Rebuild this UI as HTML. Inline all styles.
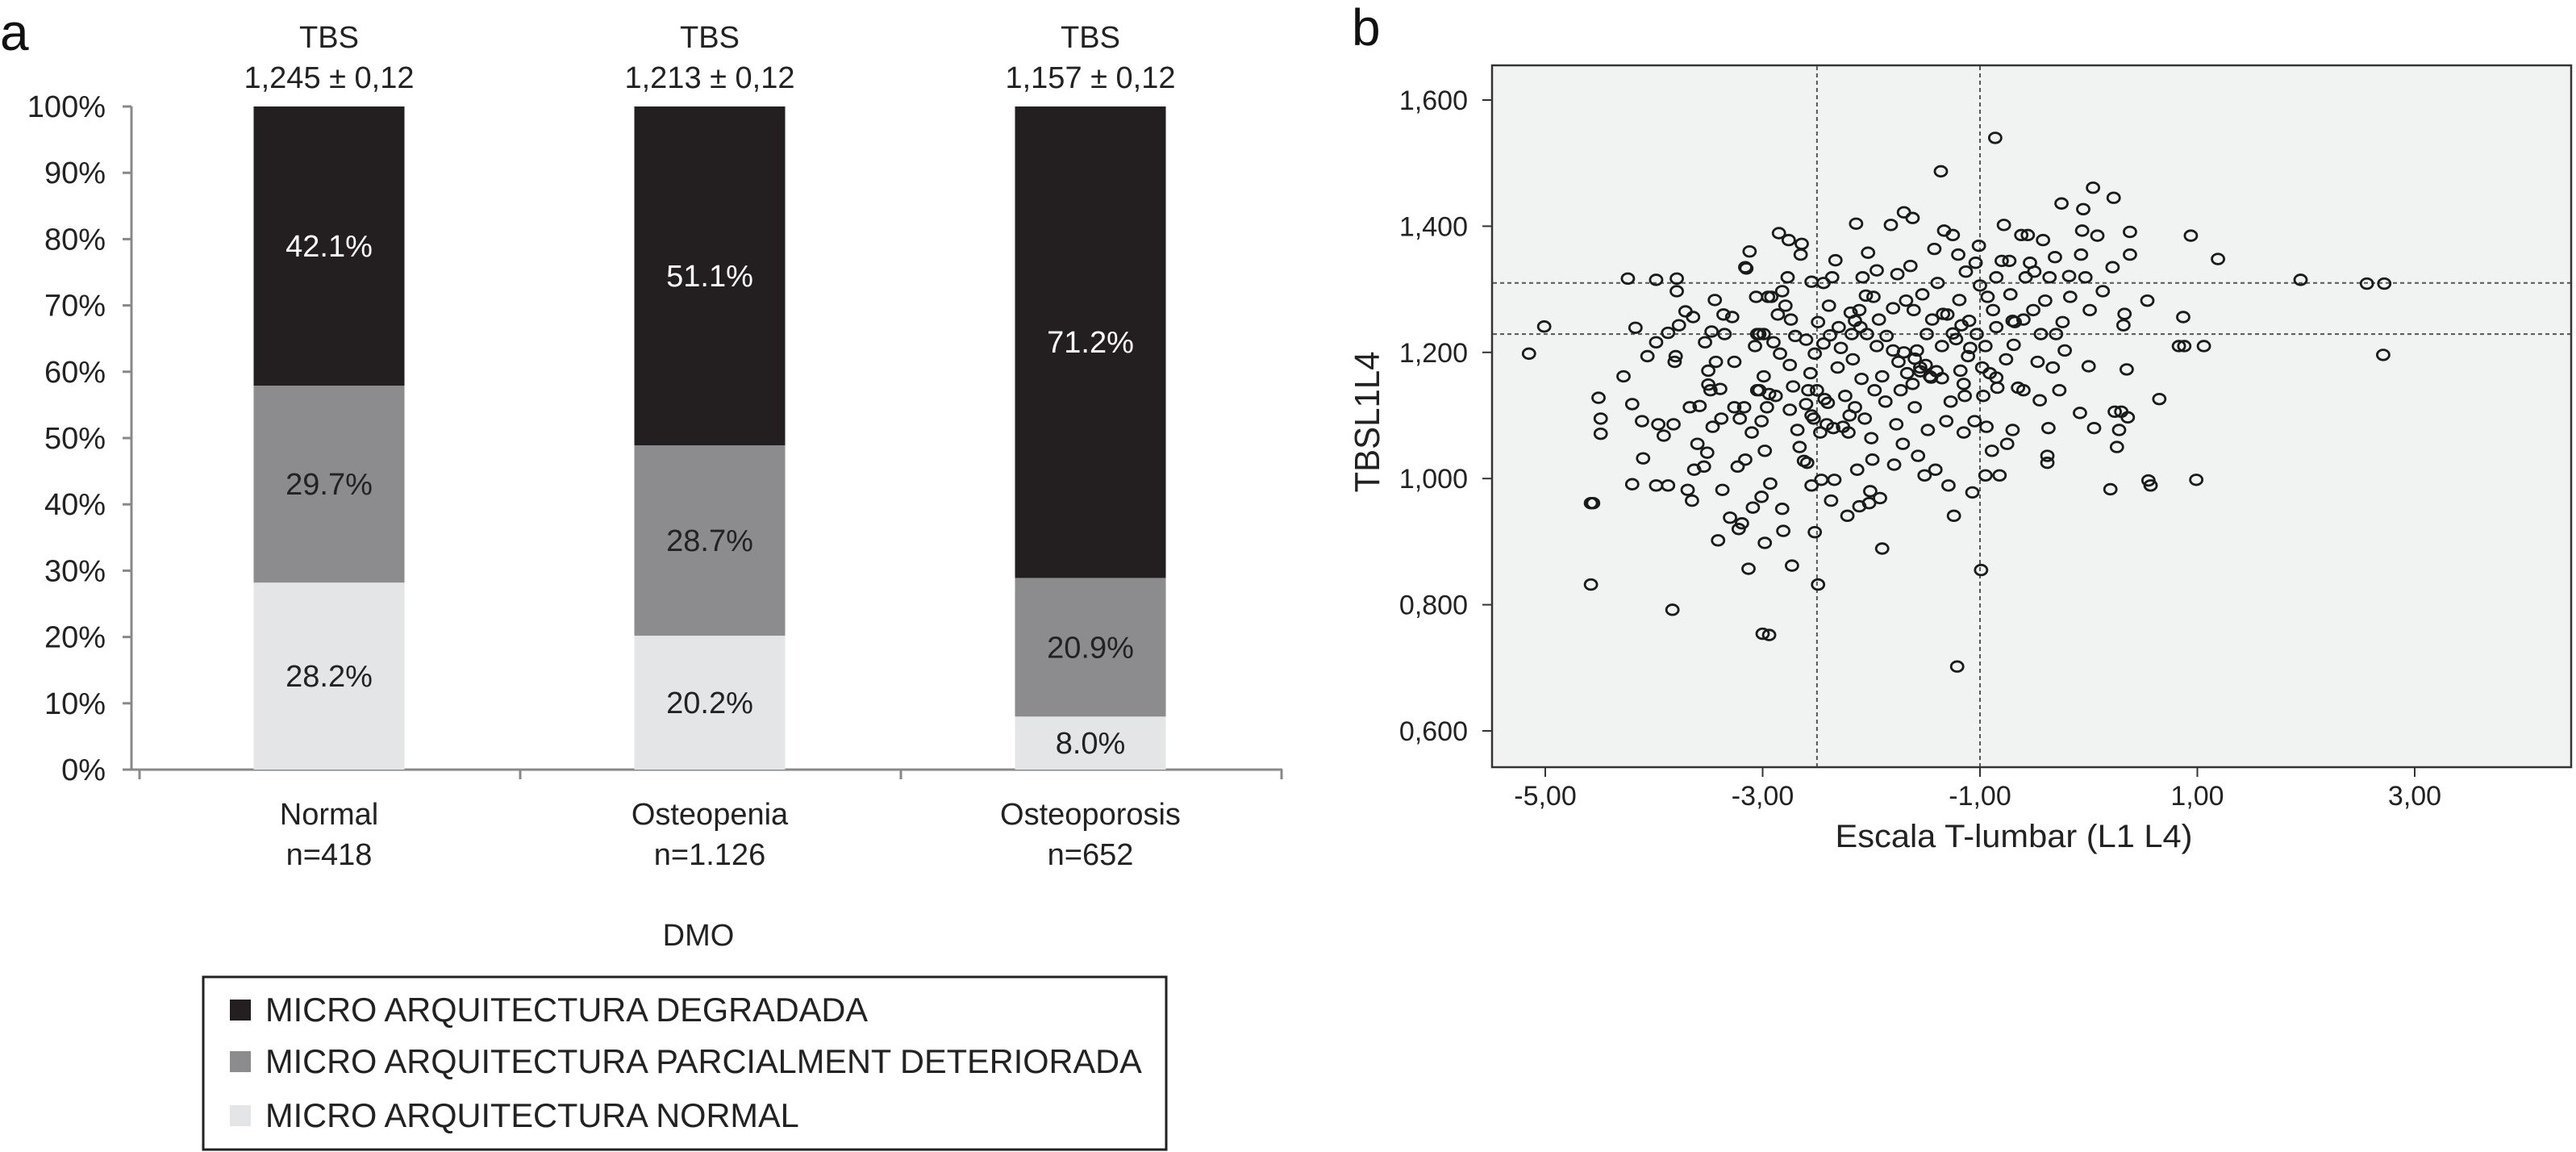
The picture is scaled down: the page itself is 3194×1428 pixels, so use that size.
<!DOCTYPE html>
<html><head><meta charset="utf-8"><style>
html,body{margin:0;padding:0;background:#fff;}
svg{display:block;font-family:"Liberation Sans",Arial,sans-serif;}
</style></head><body>
<svg id="fig" width="3194" height="1428" viewBox="0 0 3194 1428" xmlns="http://www.w3.org/2000/svg">
<text x="0" y="62" font-size="64" fill="#111">a</text>
<text x="1676" y="56" font-size="64" fill="#111">b</text>
<g id="barChart"></g>
<g id="legend">
  <rect x="252" y="1211" width="1194" height="214" fill="#fff" stroke="#222" stroke-width="3"/>
  <rect x="285" y="1239" width="26" height="26" fill="#231f20"/>
  <text x="329" y="1266" font-size="41.5" fill="#222">MICRO ARQUITECTURA DEGRADADA</text>
  <rect x="285" y="1303" width="26" height="26" fill="#8c8c8e"/>
  <text x="329" y="1330" font-size="41.5" fill="#222">MICRO ARQUITECTURA PARCIALMENT DETERIORADA</text>
  <rect x="285" y="1370" width="26" height="26" fill="#e4e5e7"/>
  <text x="329" y="1397" font-size="41.5" fill="#222">MICRO ARQUITECTURA NORMAL</text>
</g>
<g id="scatter"></g>
</svg>
<script>
// ---- Bar chart data ----
const categories = ["Normal", "Osteopenia", "Osteoporosis"];
const catN = ["n=418", "n=1.126", "n=652"];
const tbsValues = ["1,245 ± 0,12", "1,213 ± 0,12", "1,157 ± 0,12"];
const normalPct = [28.2, 20.2, 8.0];
const parcialPct = [29.7, 28.7, 20.9];
const degradadaPct = [42.1, 51.1, 71.2];
const yTickPct = [0, 10, 20, 30, 40, 50, 60, 70, 80, 90, 100];

// ---- Scatter data ----
const scX = [-5.15,-5.01,-4.58,-4.56,-4.58,-4.51,-4.49,-4.49,-4.28,-4.24,-4.2,-4.2,-4.17,-4.11,-4.10,-4.06,-3.98,-3.98,-3.98,-3.96,-3.91,-3.87,-3.87,-3.83,-3.82,-3.81,-3.79,-3.79,-3.80,-3.77,-3.71,-3.69,-3.67,-3.65,-3.64,-3.63,-3.60,-3.58,-3.54,-3.53,-3.51,-3.50,-3.50,-3.48,-3.47,-3.46,-3.44,-3.43,-3.41,-3.39,-3.38,-3.37,-3.36,-3.35,-3.30,-3.28,-3.26,-3.26,-3.23,-3.22,-3.21,-3.19,-3.17,-3.16,-3.16,-3.15,-3.13,-3.12,-3.10,-3.09,-3.07,-3.06,-3.05,-3.03,-2.99,-3.03,-3.01,-3.01,-3.00,-2.94,-2.99,-2.98,-2.98,-2.96,-2.95,-2.94,-2.93,-2.92,-2.90,-2.88,-2.86,-2.85,-2.84,-2.82,-2.82,-2.81,-2.79,-2.77,-2.76,-2.75,-2.74,-2.73,-2.72,-2.70,-2.68,-2.66,-2.65,-2.64,-2.62,-2.60,-2.59,-2.58,-2.56,-2.55,-2.55,-2.53,-2.52,-2.52,-2.49,-2.49,-2.47,-2.46,-2.44,-2.44,-2.43,-2.41,-2.39,-2.38,-2.37,-2.36,-2.34,-2.33,-2.31,-2.30,-2.28,-2.26,-2.24,-2.22,-2.21,-2.19,-2.18,-2.17,-2.15,-2.14,-2.13,-2.11,-2.11,-2.09,-2.08,-2.06,-2.04,-2.03,-2.02,-2.01,-2.00,-1.99,-1.98,-1.97,-1.95,-1.93,-1.92,-1.90,-1.90,-1.87,-1.86,-1.82,-1.80,-1.79,-1.77,-1.76,-1.75,-1.73,-1.71,-1.70,-1.68,-1.67,-1.64,-1.62,-1.61,-1.60,-1.58,-1.57,-1.55,-1.53,-1.51,-1.49,-1.48,-1.46,-1.44,-1.42,-1.41,-1.39,-1.36,-1.35,-1.34,-1.33,-1.31,-1.29,-1.27,-1.25,-1.24,-1.22,-1.21,-1.20,-1.19,-1.18,-1.17,-1.15,-1.14,-1.13,-1.11,-1.09,-1.07,-1.05,-1.04,-1.03,-1.01,-1.00,-0.99,-0.98,-0.97,-0.95,-0.94,-0.93,-0.91,-0.89,-0.88,-0.86,-0.85,-0.84,-0.82,-0.80,-0.78,-0.76,-0.75,-0.73,-0.72,-0.70,-0.69,-0.68,-0.65,-0.62,-0.60,-0.58,-0.56,-0.54,-0.51,-0.50,-0.47,-0.45,-0.44,-0.42,-0.40,-0.38,-0.38,-0.37,-0.36,-0.33,-0.31,-0.30,-0.27,-0.25,-0.24,-0.22,-0.18,-0.17,-0.08,-0.07,-0.06,-0.05,-0.03,0.00,0.01,0.04,0.05,0.08,0.13,0.20,0.22,0.23,0.24,0.26,0.28,0.30,0.32,0.33,0.35,0.36,0.38,0.38,0.54,0.55,0.57,0.65,0.83,0.88,0.87,0.94,0.99,1.06,1.19,1.95,2.56,2.72,2.71,
-1.55,-1.50,-1.45,-1.60,-1.62,-1.25,-1.30,-0.85,-0.85,-0.70,-2.15,-2.10,-2.05,-2.20,-2.35,-2.40,-2.50,-2.55,-1.40,-1.70,-1.95,-1.10,-0.95,-1.80,-2.60,-2.75,-3.05,-1.35,-1.15,-0.60];
const scY = [1.198,1.241,0.961,0.961,0.832,1.128,1.095,1.071,1.162,1.317,1.118,0.991,1.239,1.091,1.032,1.194,0.989,1.315,1.216,1.086,1.068,0.989,1.231,0.792,1.086,1.185,1.297,1.317,1.194,1.243,1.265,0.982,1.113,0.965,1.256,1.014,1.055,1.115,1.019,1.216,1.041,1.149,1.171,1.140,1.233,1.082,1.283,1.185,0.902,1.142,1.095,0.982,1.260,1.229,0.938,1.256,1.113,1.185,1.019,0.920,1.095,0.929,1.113,1.030,1.335,1.333,0.857,1.360,1.073,0.954,1.210,1.288,1.229,1.229,1.229,1.140,1.091,0.971,0.754,0.752,1.162,1.044,0.898,1.113,1.288,1.134,0.992,1.288,1.216,1.131,1.260,1.389,1.198,0.952,1.297,0.917,1.274,1.319,1.378,1.109,1.252,0.862,1.146,1.226,1.077,1.050,1.355,1.372,1.028,1.118,1.025,1.140,1.167,0.989,1.312,1.095,0.915,1.198,1.248,0.832,1.073,0.998,1.214,1.310,1.126,1.086,1.274,1.227,0.965,1.319,0.998,1.346,1.176,1.240,1.207,1.082,1.131,0.941,1.073,1.263,1.229,1.189,1.113,1.404,1.014,0.956,1.267,1.158,1.319,1.095,1.229,1.358,0.961,0.980,1.064,1.030,1.288,1.140,1.330,1.252,0.969,0.889,1.162,1.122,1.226,1.402,1.203,1.022,1.086,1.324,1.185,1.140,1.055,1.422,1.282,1.167,1.337,1.413,1.267,1.113,1.203,1.036,1.176,1.292,1.005,1.229,1.077,1.162,1.252,1.364,1.014,1.310,1.487,1.159,1.261,1.393,1.091,0.989,1.122,1.386,0.941,1.221,0.702,1.355,1.283,1.171,1.243,1.073,1.131,1.328,1.194,1.207,0.978,1.091,1.342,1.229,1.369,1.306,0.855,1.176,1.131,1.005,1.082,1.288,1.167,1.044,1.267,1.540,1.319,1.144,1.005,1.345,1.402,1.189,1.055,1.345,1.292,1.077,1.212,1.248,1.144,1.386,1.252,1.319,1.386,1.342,1.267,1.328,1.185,1.124,1.229,1.378,1.282,1.036,1.025,1.080,1.319,1.176,1.351,1.229,1.140,1.436,1.248,1.203,1.321,1.288,1.104,1.355,1.393,1.427,1.319,1.178,1.267,1.461,1.080,1.385,1.297,0.983,1.335,1.445,1.106,1.050,1.077,1.106,1.243,1.261,1.173,1.097,1.355,1.391,1.282,0.997,0.989,1.126,1.210,1.210,1.256,1.385,0.998,1.210,1.348,1.315,1.309,1.309,1.196,
1.17,1.18,1.16,1.19,1.15,1.23,1.26,1.16,1.24,1.25,1.25,1.24,1.29,1.10,1.08,1.12,1.14,1.10,1.17,1.20,1.21,1.25,1.21,1.27,1.22,1.18,1.14,1.21,1.15,1.14];
const refX = [-2.5, -1.0];
const refY = [1.310, 1.229];
const xTickVals = [-5, -3, -1, 1, 3];
const xTickLabels = ["-5,00", "-3,00", "-1,00", "1,00", "3,00"];
const yTickVals = [0.6, 0.8, 1.0, 1.2, 1.4, 1.6];
const yTickLabels = ["0,600", "0,800", "1,000", "1,200", "1,400", "1,600"];

const NS = "http://www.w3.org/2000/svg";
function mk(parent, tag, attrs, text) {
  const e = document.createElementNS(NS, tag);
  for (const k in attrs) e.setAttribute(k, attrs[k]);
  if (text !== undefined) e.textContent = text;
  parent.appendChild(e);
  return e;
}

// ---- Bar chart ----
const bc = document.getElementById("barChart");
const by = p => 954 - p * 8.22;
const bandCenter = i => 408 + i * 472;
const barW = 187;
yTickPct.forEach(t => {
  const tl = mk(bc, "line", {x1: 152, x2: 163, y1: by(t), y2: by(t), stroke: "#888", "stroke-width": 3});
  
  
  const tx = mk(bc, "text", {x: 131, y: by(t) + 13, "font-size": 38, "text-anchor": "end", fill: "#222"}, t + "%");
  
  
});
const yAx = mk(bc, "line", {x1: 163, x2: 163, y1: by(100), y2: by(0), stroke: "#888", "stroke-width": 3});


const xAx = mk(bc, "line", {x1: 163, x2: 1590, y1: by(0), y2: by(0), stroke: "#888", "stroke-width": 3});


for (let i = 0; i <= categories.length; i++) {
  const x = 173 + i * 472;
  const tk = mk(bc, "line", {x1: x, x2: x, y1: by(0), y2: by(0) + 12, stroke: "#888", "stroke-width": 3});
  
  
}
const series = [
  {vals: normalPct, fill: "#e4e5e7", tc: "#222", name: "normal"},
  {vals: parcialPct, fill: "#8c8c8e", tc: "#222", name: "parcial"},
  {vals: degradadaPct, fill: "#231f20", tc: "#fff", name: "degradada"}
];
categories.forEach((c, i) => {
  let base = 0;
  const cx = bandCenter(i);
  series.forEach((s, si) => {
    const v = s.vals[i];
    let top = base + v;
    if (si === series.length - 1) top = 100;
    const r = mk(bc, "rect", {x: cx - barW / 2, y: by(top), width: barW, height: by(base) - by(top), fill: s.fill});
    
    
    const lt = mk(bc, "text", {x: cx, y: (by(base) + by(top)) / 2 + 13, "font-size": 38, "text-anchor": "middle", fill: s.tc}, v.toFixed(1) + "%");
    
    
    base = top;
  });
  const t1 = mk(bc, "text", {x: cx, y: 59, "font-size": 38, "text-anchor": "middle", fill: "#222"}, "TBS");
  
  
  const t2 = mk(bc, "text", {x: cx, y: 109, "font-size": 38, "text-anchor": "middle", fill: "#222"}, tbsValues[i]);
  
  
  const c1 = mk(bc, "text", {x: cx, y: 1022, "font-size": 38, "text-anchor": "middle", fill: "#222"}, c);
  
  
  const c2 = mk(bc, "text", {x: cx, y: 1072, "font-size": 38, "text-anchor": "middle", fill: "#222"}, catN[i]);
  
  
});
const xt = mk(bc, "text", {x: 866, y: 1172, "font-size": 38, "text-anchor": "middle", fill: "#222"}, "DMO");



// ---- Scatter ----
const sc = document.getElementById("scatter");
const sx = v => 1916 + (v + 5) * 134.75;
const sy = v => 124 + (1.6 - v) * 782;
const box = mk(sc, "rect", {x: 1850, y: 81, width: 1338, height: 870, fill: "#f1f3f2", stroke: "#333", "stroke-width": 2.5});


refX.forEach(v => {
  const l = mk(sc, "line", {x1: sx(v), x2: sx(v), y1: 82, y2: 950, stroke: "#555", "stroke-width": 2, "stroke-dasharray": "5 4"});
  
  
});
refY.forEach(v => {
  const l = mk(sc, "line", {x1: 1851, x2: 3187, y1: sy(v), y2: sy(v), stroke: "#555", "stroke-width": 2, "stroke-dasharray": "5 4"});
  
  
});
yTickVals.forEach((v, i) => {
  const l = mk(sc, "line", {x1: 1838, x2: 1850, y1: sy(v), y2: sy(v), stroke: "#333", "stroke-width": 2});
  
  
  const t = mk(sc, "text", {x: 1820, y: sy(v) + 12, "font-size": 34, "text-anchor": "end", fill: "#222"}, yTickLabels[i]);
  
  
});
xTickVals.forEach((v, i) => {
  const l = mk(sc, "line", {x1: sx(v), x2: sx(v), y1: 951, y2: 963, stroke: "#333", "stroke-width": 2});
  
  
  const t = mk(sc, "text", {x: sx(v), y: 998, "font-size": 34, "text-anchor": "middle", fill: "#222"}, xTickLabels[i]);
  
  
});
scX.forEach((v, i) => {
  const p = mk(sc, "ellipse", {cx: sx(v), cy: sy(scY[i]), rx: 7.5, ry: 6.3, fill: "none", stroke: "#1a1a1a", "stroke-width": 2.8});
  
  
});
const xTitle = mk(sc, "text", {x: 2497, y: 1050, "font-size": 40, "text-anchor": "middle", fill: "#222", textLength: 443, lengthAdjust: "spacingAndGlyphs"}, "Escala T-lumbar (L1 L4)");


const yTitle = mk(sc, "text", {x: 0, y: 0, "font-size": 44, "text-anchor": "middle", fill: "#222", textLength: 175, lengthAdjust: "spacingAndGlyphs", transform: "translate(1710,523) rotate(-90)"}, "TBSL1L4");


</script>
</body></html>
